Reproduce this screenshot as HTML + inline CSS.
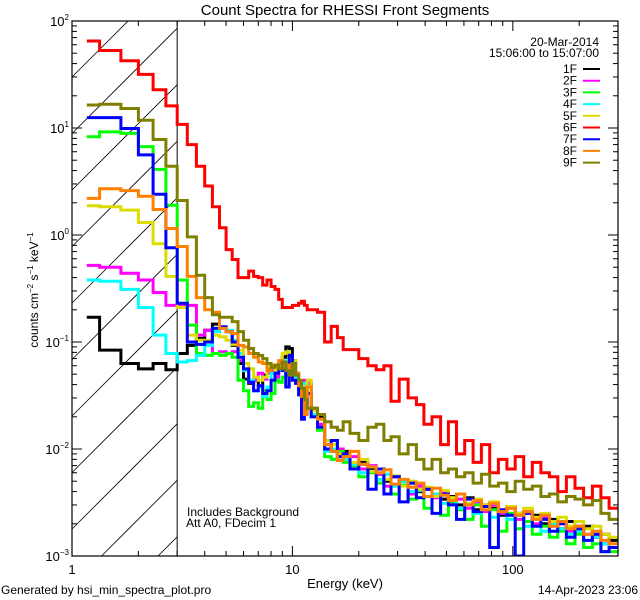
<!DOCTYPE html>
<html><head><meta charset="utf-8"><style>
html,body{margin:0;background:#fff;width:640px;height:600px;overflow:hidden;}
svg{display:block;font-family:"Liberation Sans",sans-serif;}
</style></head><body>
<svg id="chart" width="640" height="600" viewBox="0 0 640 600">
<rect width="640" height="600" fill="#fff"/>
<text x="345" y="15" font-size="15" text-anchor="middle">Count Spectra for RHESSI Front Segments</text>
<g id="hatch"></g>
<g id="series"></g>
<g id="axes"></g>
<text x="599" y="46" font-size="12" text-anchor="end">20-Mar-2014</text>
<text x="599" y="57" font-size="12" text-anchor="end">15:06:00 to 15:07:00</text>
<g id="legend"></g>
<text x="187" y="516" font-size="12">Includes Background</text>
<text x="186" y="527" font-size="12">Att A0, FDecim 1</text>
<text x="345" y="588" font-size="13" text-anchor="middle">Energy (keV)</text>
<text transform="translate(38,290) rotate(-90)" font-size="12" text-anchor="middle">counts cm<tspan font-size="8" dy="-5">−2</tspan><tspan dy="5"> s</tspan><tspan font-size="8" dy="-5">−1</tspan><tspan dy="5"> keV</tspan><tspan font-size="8" dy="-5">−1</tspan></text>
<text x="1" y="594" font-size="12">Generated by hsi_min_spectra_plot.pro</text>
<text x="638" y="594" font-size="12" text-anchor="end">14-Apr-2023 23:06</text>
</svg>
<script>
const energies = [1.167,1.5,1.833,2.167,2.5,2.833,3.167,3.5,3.833,4.167,4.5,4.833,5.167,5.5,5.833,6.167,6.5,6.833,7.167,7.5,7.833,8.167,8.5,8.833,9.167,9.5,9.833,10.167,10.5,10.833,11.167,11.5,11.833,
12.5,13.5,14.5,15.5,16.5,17.5,19,21,23,25,27,29,32,35,38,41,45,49,53,58,63,69,75,82,90,98,107,117,128,140,153,167,183,200,219,240,262,285];
const seriesNames = ["1F","2F","3F","4F","5F","6F","7F","8F","9F"];
const seriesColors = ["#000000","#ff00ff","#00ff00","#00ffff","#dcdc00","#ff0000","#0000ff","#ff8000","#808000"];
const s1F = [.17,.084,.063,.056,.063,.055,.078,.093,.108,.129,.147,.134,.125,.093,.063,.045,.041,.044,.038,.049,.056,.058,.054,.058,.072,.09,.087,.067,.051,.041,.035,.038,.041,
.024,.02,.011,.0095,.0085,.0095,.007,.0075,.0065,.0058,.005,.0055,.0046,.0048,.004,.0042,.0037,.0034,.0036,.003,.0035,.0027,.003,.0028,.0024,.0029,.0025,.0021,.0024,.002,.0022,.0018,.0021,.0017,.0019,.0015,.0016,.0014];
const s2F = [.52,.50,.44,.38,.29,.22,.22,.22,.116,.129,.078,.081,.078,.081,.067,.054,.042,.044,.051,.045,.051,.054,.047,.063,.056,.049,.051,.058,.051,.041,.035,.044,.041,
.02,.017,.012,.012,.01,.009,.0085,.0065,.007,.0058,.0045,.0055,.005,.0038,.0045,.0043,.0035,.0039,.0032,.0034,.0028,.0032,.0026,.003,.0025,.0028,.0022,.0026,.002,.0023,.0019,.002,.0017,.0019,.0016,.0015,.0013,.0012];
const s3F = [8.3,9.2,8.9,6.7,4.1,1.9,.38,.144,.078,.075,.078,.075,.078,.072,.044,.035,.025,.027,.024,.035,.029,.033,.044,.042,.047,.051,.051,.054,.044,.038,.027,.031,.038,
.02,.015,.0085,.008,.0095,.0075,.007,.0055,.006,.0048,.0052,.0038,.0046,.0034,.0042,.0028,.0036,.0024,.0032,.0027,.0022,.003,.0019,.0027,.0017,.0025,.0018,.0021,.0016,.0019,.0015,.0017,.0013,.0016,.0012,.0013,.0011,.0011];
const s4F = [.38,.37,.31,.21,.116,.078,.065,.067,.075,.093,.125,.134,.129,.104,.078,.054,.044,.035,.038,.031,.038,.051,.054,.056,.067,.051,.065,.051,.044,.033,.035,.041,.038,
.021,.016,.0095,.01,.0085,.008,.0072,.006,.0068,.0052,.0058,.0045,.005,.004,.0041,.0036,.0038,.0031,.0035,.0028,.0031,.0025,.0029,.0023,.0026,.0022,.0024,.0019,.0022,.0017,.002,.0018,.0016,.0017,.0014,.0015,.0013,.0012];
const s5F = [1.88,1.84,1.71,1.31,.83,.41,.21,.116,.104,.104,.116,.112,.104,.095,.084,.063,.056,.047,.044,.047,.058,.061,.054,.058,.078,.081,.072,.067,.051,.041,.033,.038,.044,
.023,.019,.012,.011,.009,.0085,.0075,.008,.0062,.0065,.0052,.0056,.0045,.005,.0042,.0044,.0036,.0041,.0035,.0038,.0031,.0034,.003,.0032,.0027,.0029,.0025,.0028,.0023,.0025,.0021,.0023,.0019,.0021,.0018,.0019,.0016,.0015];
const s6F = [65,53,42.5,31.7,22.8,16.1,10.8,7.0,4.4,2.87,1.84,1.17,.73,.59,.40,.40,.46,.41,.40,.34,.38,.33,.31,.25,.21,.21,.21,.22,.22,.23,.24,.22,.20,
.2,.19,.10,.14,.11,.085,.085,.07,.06,.055,.06,.028,.045,.03,.026,.017,.02,.011,.018,.009,.012,.0075,.011,.006,.008,.0065,.0085,.0055,.0075,.006,.0055,.004,.0055,.0043,.0035,.0045,.0035,.0028];
const s7F = [12.5,12.5,9.9,5.6,2.4,.76,.23,.10,.095,.10,.134,.139,.125,.10,.072,.056,.042,.035,.039,.033,.035,.044,.051,.056,.054,.038,.075,.044,.041,.032,.019,.027,.033,
.02,.016,.01,.012,.0085,.009,.0065,.0072,.0042,.0065,.0038,.0055,.0032,.0048,.0035,.0042,.0025,.0038,.003,.0022,.0034,.0026,.0029,.0012,.0027,.0024,.001,.0025,.0019,.0022,.0017,.002,.0015,.0018,.0014,.0016,.0011,.0012];
const s8F = [2.2,2.7,2.6,2.3,1.73,1.15,.78,.41,.26,.20,.19,.134,.125,.12,.093,.09,.078,.072,.065,.063,.054,.061,.058,.067,.058,.061,.056,.063,.051,.039,.031,.021,.038,
.024,.019,.011,.0095,.0078,.0085,.0095,.0072,.0068,.006,.0064,.0047,.0052,.0044,.0048,.0036,.0043,.0037,.0033,.0038,.003,.0033,.0027,.0031,.0026,.0028,.0024,.0026,.0022,.0024,.0019,.0021,.0018,.0019,.0016,.0017,.0014,.0013];
const s9F = [16.4,16.7,15.2,11.8,7.8,4.4,2.1,.96,.42,.26,.18,.17,.17,.155,.125,.104,.087,.078,.075,.07,.063,.058,.061,.056,.065,.054,.049,.063,.049,.044,.037,.029,.024,
.024,.021,.018,.016,.015,.018,.014,.012,.016,.017,.012,.013,.009,.011,.008,.0065,.008,.006,.0065,.0055,.006,.0048,.0058,.0045,.0048,.004,.005,.0042,.0045,.0036,.0038,.0032,.0036,.0034,.003,.0033,.0025,.0022];
const xTickLabels = ["1","10","100"];
const yTickExps = ["2","1","0","−1","−2","−3"];

const NS="http://www.w3.org/2000/svg";
const L=72,R=618,T=21,B=556;
const xMin=1,xMax=300,yMin=1e-3,yMax=1e2;
function xs(e){return L+(Math.log10(e)-Math.log10(xMin))/(Math.log10(xMax)-Math.log10(xMin))*(R-L);}
function ys(v){return B-(Math.log10(v)-Math.log10(yMin))/(Math.log10(yMax)-Math.log10(yMin))*(B-T);}
function mk(tag,attrs,parent){const el=document.createElementNS(NS,tag);for(const k in attrs)el.setAttribute(k,attrs[k]);parent.appendChild(el);return el;}
const svg=document.getElementById('chart');
const defs=mk('defs',{},svg);
const cp=mk('clipPath',{id:'plotclip'},defs);
mk('rect',{x:L,y:T,width:R-L,height:B-T},cp);

// hatch (lines computed inside the region L..x3, T..B)
const hatch=document.getElementById('hatch');
const X3=xs(3);
for(let k=-3;k<14;k++){
  const c=77+56.5*k; // y at x=L; line y = c - (x-L)
  let xa=L, ya=c;
  if(ya>B){xa=L+(ya-B);ya=B;}
  let xb=X3, yb=c-(X3-L);
  if(yb<T){xb=L+(c-T);yb=T;}
  if(xa>=xb||xa>X3||xb<L)continue;
  const ln=mk('line',{x1:xa,y1:ya,x2:xb,y2:yb,stroke:'#000','stroke-width':0.8},hatch);
  
  
}
const vl=mk('line',{x1:X3,y1:T,x2:X3,y2:B,stroke:'#000','stroke-width':1},hatch);



// series
const sg=document.getElementById('series');
sg.setAttribute('clip-path','url(#plotclip)');
const allSeries=[s1F,s2F,s3F,s4F,s5F,s6F,s7F,s8F,s9F];
allSeries.forEach((vals,si)=>{
  let d='';
  const n=vals.length;
  for(let i=0;i<n;i++){
    const left=i===0?energies[0]:(energies[i-1]+energies[i])/2;
    const right=i===n-1?xMax:(energies[i]+energies[i+1])/2;
    const y=Math.min(ys(Math.max(vals[i],1e-4)),B+2).toFixed(1);
    d+=(i===0?'M':'L')+xs(left).toFixed(1)+','+y+'L'+xs(right).toFixed(1)+','+y;
  }
  const p=mk('path',{d:d,fill:'none',stroke:seriesColors[si],'stroke-width':3,'stroke-linejoin':'miter'},sg);
  
  
});

// axes
const ax=document.getElementById('axes');
const frame=mk('rect',{x:L,y:T,width:R-L,height:B-T,fill:'none',stroke:'#000','stroke-width':1.2},ax);


for(let dec=0;dec<3;dec++){
  for(let m=1;m<10;m++){
    const e=m*Math.pow(10,dec); if(e>xMax)break;
    const x=xs(e); const len=m===1?10:5;
    const t1=mk('line',{x1:x,y1:B,x2:x,y2:B-len,stroke:'#000','stroke-width':1},ax);
    
    
    const t2=mk('line',{x1:x,y1:T,x2:x,y2:T+len,stroke:'#000','stroke-width':1},ax);
    
    
    if(m===1){
      const tl=mk('text',{x:x,y:574,'font-size':13,'text-anchor':'middle'},ax);
      tl.textContent=xTickLabels[dec];
      
      
    }
  }
}
for(let ex=-3;ex<=2;ex++){
  for(let m=1;m<10;m++){
    if(ex===2&&m>1)break;
    const v=m*Math.pow(10,ex); const y=ys(v); const len=m===1?10:5;
    const t1=mk('line',{x1:L,y1:y,x2:L+len,y2:y,stroke:'#000','stroke-width':1},ax);
    
    
    const t2=mk('line',{x1:R,y1:y,x2:R-len,y2:y,stroke:'#000','stroke-width':1},ax);
    
    
    if(m===1){
      const tl=mk('text',{x:L-3,y:y+5,'font-size':13,'text-anchor':'end'},ax);
      
      
      const base=document.createElementNS(NS,'tspan');base.textContent='10';tl.appendChild(base);
      const sup=document.createElementNS(NS,'tspan');sup.setAttribute('font-size','8');sup.setAttribute('dy','-6');
      sup.textContent=yTickExps[2-ex];tl.appendChild(sup);
    }
  }
}

// legend
const lg=document.getElementById('legend');
seriesNames.forEach((nm,i)=>{
  const y=69+11.7*i;
  const g=mk('g',{},lg);
  
  
  const t=mk('text',{x:577,y:y+4,'font-size':12,'text-anchor':'end'},g);
  t.textContent=nm;
  mk('line',{x1:583,y1:y,x2:600,y2:y,stroke:seriesColors[i],'stroke-width':2},g);
});
</script>
</body></html>
